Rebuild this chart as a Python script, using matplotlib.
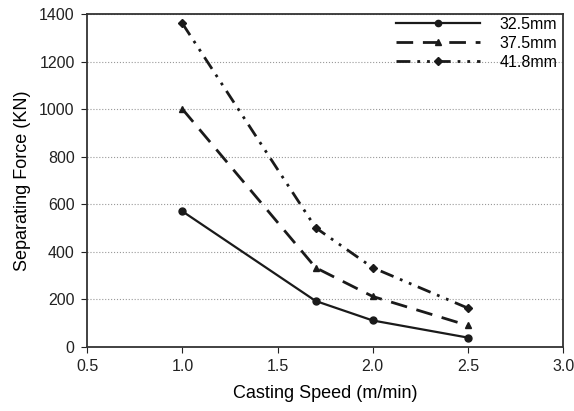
import matplotlib
matplotlib.use('Agg')
import matplotlib.pyplot as plt

plt.rcParams['font.family'] = ['Liberation Sans', 'DejaVu Sans']

speed = [1.0, 1.7, 2.0, 2.5]
force_325 = [570, 193, 111, 39]
force_375 = [1000, 333, 212, 90]
force_418 = [1360, 501, 333, 163]
labels = ['32.5mm', '37.5mm', '41.8mm']

fig = plt.figure(figsize=(5.74, 4.11), dpi=100)
ax = fig.add_axes([0.152, 0.156, 0.829, 0.81])

ax.plot(speed, force_325, color='#1a1a1a', lw=1.6, marker='o', ms=5, label=labels[0])
ax.plot(speed, force_375, color='#1a1a1a', lw=2.0, ls=(0, (6, 3.5)), marker='^', ms=5, label=labels[1])
ax.plot(speed, force_418, color='#1a1a1a', lw=2.0, ls=(0, (5, 2.5, 1, 2.5, 1, 2.5)), marker='D', ms=4.5, label=labels[2])

ax.set_xlim(0.5, 3.0)
ax.set_ylim(0, 1400)
ax.set_xticks([0.5, 1.0, 1.5, 2.0, 2.5, 3.0])
ax.set_xticklabels(['0.5', '1.0', '1.5', '2.0', '2.5', '3.0'])
ax.set_yticks(range(0, 1401, 200))
ax.yaxis.grid(True, ls=':', color='#999999', lw=0.8)
ax.set_axisbelow(True)
for s in ax.spines.values():
    s.set_color('#333333')
    s.set_linewidth(1.3)
ax.tick_params(direction='out', length=4, labelsize=11.5, colors='#222222', pad=5)

ax.set_xlabel('Casting Speed (m/min)', fontsize=13, labelpad=8)
ax.set_ylabel('Separating Force (KN)', fontsize=13, labelpad=6)

leg = ax.legend(loc='upper right', bbox_to_anchor=(1.0, 1.009), frameon=False,
                fontsize=11.5, handlelength=5.3, handletextpad=1.2,
                labelspacing=0.25, borderaxespad=0.0, borderpad=0.35,
                markerscale=0.9)

plt.savefig('out.png', dpi=100)
